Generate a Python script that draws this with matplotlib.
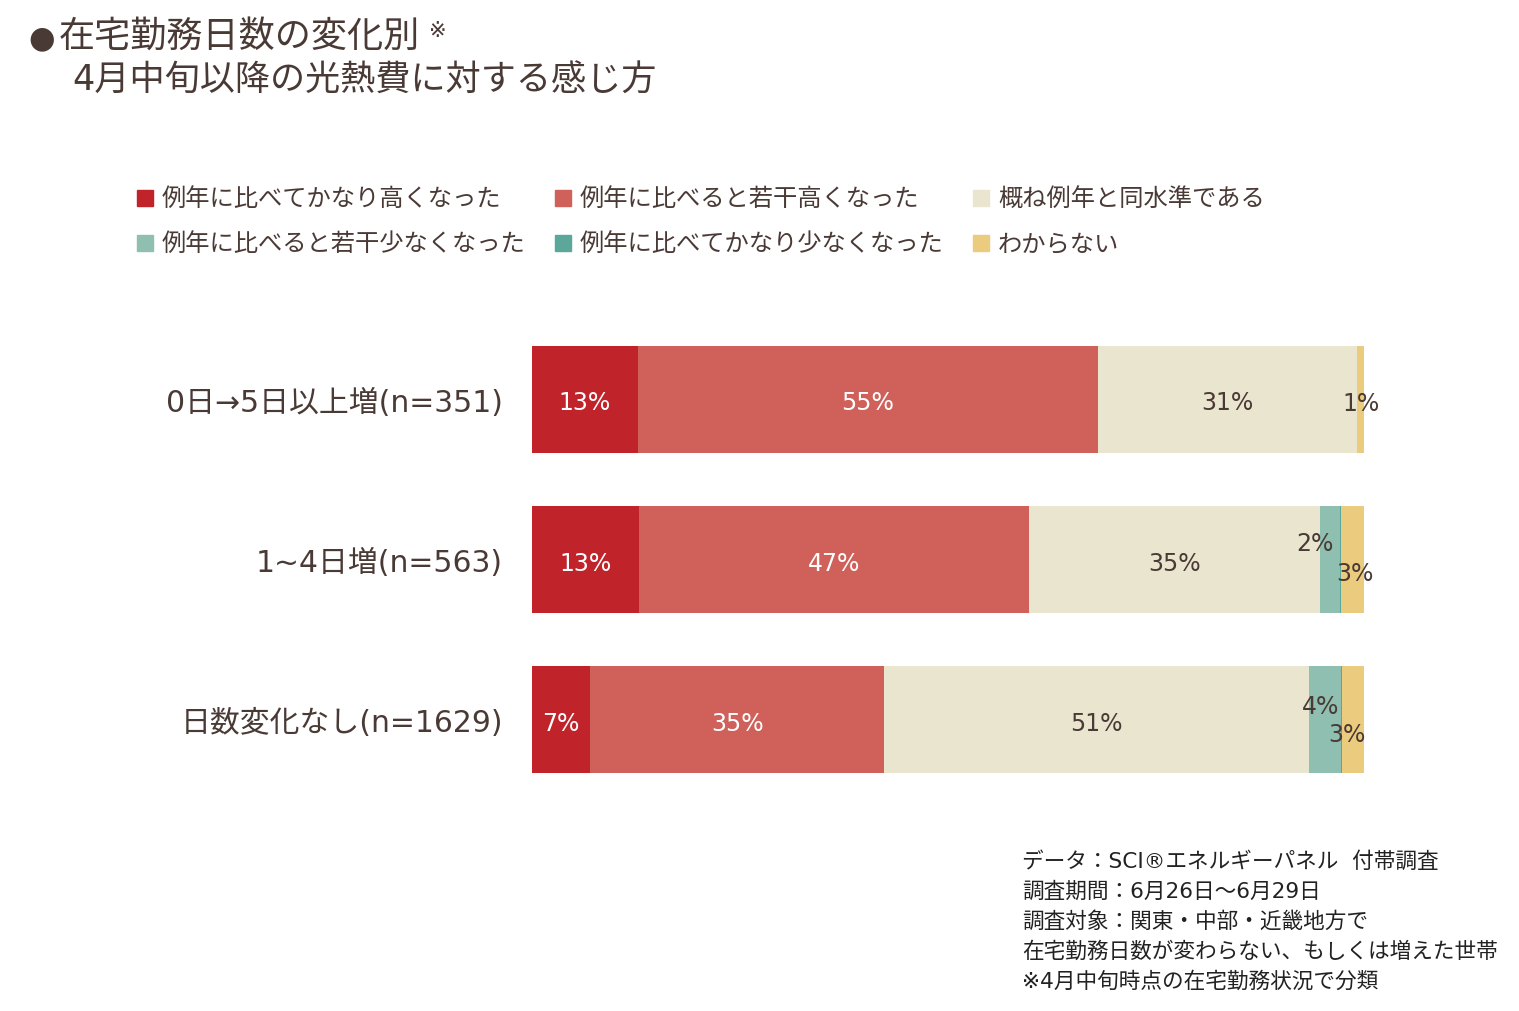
import matplotlib.pyplot as plt
from matplotlib.patches import Rectangle

plt.rcParams['font.family'] = ['DejaVu Sans', 'Noto Sans CJK JP']

groups = ["0日→5日以上増(n=351)", "1~4日増(n=563)", "日数変化なし(n=1629)"]
answers = ["例年に比べてかなり高くなった", "例年に比べると若干高くなった", "概ね例年と同水準である",
           "例年に比べると若干少なくなった", "例年に比べてかなり少なくなった", "わからない"]
high_lot = [12.7, 12.9, 7.0]
high_bit = [55.3, 46.8, 35.3]
same = [31.2, 35.0, 51.1]
low_bit = [0.0, 2.4, 3.8]
low_lot = [0.0, 0.1, 0.1]
unknown = [0.8, 2.8, 2.7]
series = [high_lot, high_bit, same, low_bit, low_lot, unknown]

colors = ["#C0232A", "#D0605A", "#EAE5CF", "#8FBFB0", "#5BA89A", "#EBCB7E"]
txt = "#4A3A35"
label_colors = ["white", "white", txt, txt, txt, txt]

fig = plt.figure(figsize=(15.19, 10.12), dpi=100)
W, H = 1519, 1012

# bars span x 532..1364, bar centres at y 400, 560.5, 721
ax = fig.add_axes([532 / W, 1 - 801 / H, 832 / W, 481 / H])
ypos = [0, 1, 2]
left = [0, 0, 0]
for i, vals in enumerate(series):
    ax.barh(ypos, vals, left=left, height=0.667, color=colors[i], edgecolor="none")
    for j, v in enumerate(vals):
        if v >= 5:
            ax.text(left[j] + v / 2, ypos[j] + 0.02, f"{v:.0f}%", ha="center", va="center",
                    fontsize=17, color=label_colors[i])
    left = [l + v for l, v in zip(left, vals)]

# small segment labels, nudged around the bar end
ax.annotate(f"{unknown[0]:.0f}%", (100 - unknown[0] / 2, 0), xytext=(0, -3), textcoords="offset points",
            ha="center", va="center", fontsize=17, color=txt)
ax.annotate(f"{low_bit[1]:.0f}%", (100 - unknown[1] - low_lot[1] - low_bit[1] / 2, 1), xytext=(-11, 12),
            textcoords="offset points", ha="center", va="center", fontsize=17, color=txt)
ax.annotate(f"{unknown[1]:.0f}%", (100 - unknown[1] / 2, 1), xytext=(2, -10), textcoords="offset points",
            ha="center", va="center", fontsize=17, color=txt)
ax.annotate(f"{low_bit[2]:.0f}%", (100 - unknown[2] - low_lot[2] - low_bit[2] / 2, 2), xytext=(-3, 10),
            textcoords="offset points", ha="center", va="center", fontsize=17, color=txt)
ax.annotate(f"{unknown[2]:.0f}%", (100 - unknown[2] / 2, 2), xytext=(-4, -10), textcoords="offset points",
            ha="center", va="center", fontsize=17, color=txt)

ax.set_xlim(0, 100)
ax.set_ylim(2.5, -0.5)
ax.set_yticks(ypos)
ax.set_yticklabels(groups, fontsize=21.5, color=txt)
ax.tick_params(axis="y", length=0, pad=21)
ax.set_xticks([])
for s in ax.spines.values():
    s.set_visible(False)

# title
fig.text(28 / W, 1 - 39 / H, "●", fontsize=22, color=txt, va="center")
fig.text(59 / W, 1 - 38 / H, "在宅勤務日数の変化別", fontsize=26, color=txt, va="center")
fig.text(429 / W, 1 - 31 / H, "※", fontsize=15, color=txt, va="center")
fig.text(72 / W, 1 - 81 / H, "4月中旬以降の光熱費に対する感じ方", fontsize=25.3, color=txt, va="center")

# legend, three columns in two rows
for k, name in enumerate(answers):
    x = 137 + 418 * (k % 3)
    y = 199 + 45 * (k // 3)
    fig.patches.append(Rectangle((x / W, 1 - (y + 8) / H), 16 / W, 16 / H,
                                 transform=fig.transFigure, color=colors[k]))
    fig.text((x + 25) / W, 1 - y / H, name, fontsize=17.5, color=txt, va="center")

note = ("データ：SCI®エネルギーパネル  付帯調査\n"
        "調査期間：6月26日～6月29日\n"
        "調査対象：関東・中部・近畿地方で\n"
        "在宅勤務日数が変わらない、もしくは増えた世帯\n"
        "※4月中旬時点の在宅勤務状況で分類")
fig.text(1022 / W, 1 - 851 / H, note, fontsize=15.6, color="#222222", va="top", linespacing=1.57)

fig.savefig("out.png", dpi=100, facecolor="white")
